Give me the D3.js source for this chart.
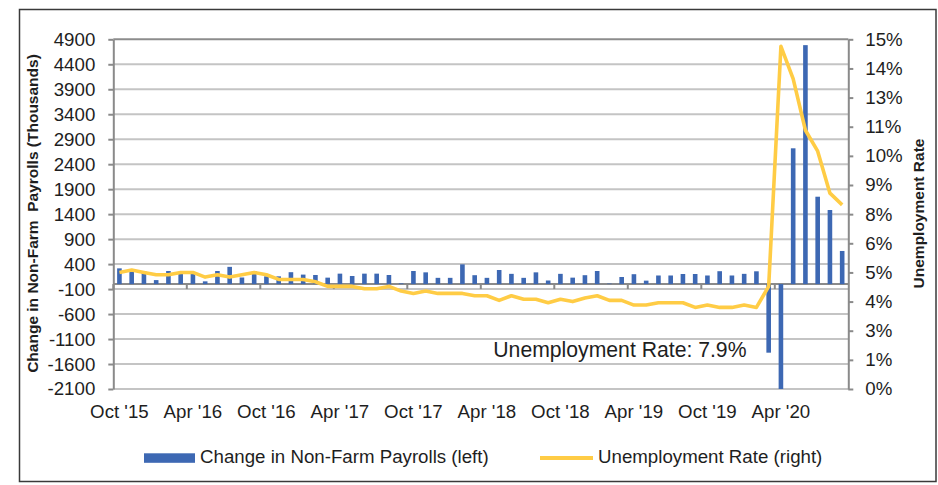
<!DOCTYPE html>
<html>
<head>
<meta charset="utf-8">
<script src="https://cdn.jsdelivr.net/npm/d3@7"></script>
<style>
  body { margin: 0; background: #fff; }
  svg { display: block; font-family: 'Liberation Sans', Arial, sans-serif; }
</style>
</head>
<body>
<script>
const months = [
  "Oct '15", "Nov '15", "Dec '15", "Jan '16", "Feb '16", "Mar '16", "Apr '16", "May '16", "Jun '16", "Jul '16", "Aug '16", "Sep '16",
  "Oct '16", "Nov '16", "Dec '16", "Jan '17", "Feb '17", "Mar '17", "Apr '17", "May '17", "Jun '17", "Jul '17", "Aug '17", "Sep '17",
  "Oct '17", "Nov '17", "Dec '17", "Jan '18", "Feb '18", "Mar '18", "Apr '18", "May '18", "Jun '18", "Jul '18", "Aug '18", "Sep '18",
  "Oct '18", "Nov '18", "Dec '18", "Jan '19", "Feb '19", "Mar '19", "Apr '19", "May '19", "Jun '19", "Jul '19", "Aug '19", "Sep '19",
  "Oct '19", "Nov '19", "Dec '19", "Jan '20", "Feb '20", "Mar '20", "Apr '20", "May '20", "Jun '20", "Jul '20", "Aug '20", "Sep '20"
]

// change in non-farm payrolls, thousands
const payrolls = [
  315, 265, 262, 80, 262, 228, 205, 55, 262, 345, 132, 262,
  155, 155, 238, 190, 182, 129, 209, 162, 209, 209, 182, 14,
  262, 235, 125, 125, 395, 178, 125, 282, 205, 125, 235, 72,
  205, 129, 178, 262, 10, 142, 198, 69, 172, 172, 202, 202,
  172, 258, 172, 205, 256, -1373, -20500, 2718, 4783, 1749, 1483, 663
]

// unemployment rate, %
const unemployment = [
  5.0, 5.1, 5.0, 4.9, 4.9, 5.0, 5.0, 4.8, 4.9, 4.8, 4.9, 5.0,
  4.9, 4.7, 4.7, 4.7, 4.6, 4.4, 4.4, 4.4, 4.3, 4.3, 4.4, 4.2,
  4.1, 4.2, 4.1, 4.1, 4.1, 4.0, 4.0, 3.8, 4.0, 3.85, 3.85, 3.7,
  3.85, 3.75, 3.9, 4.0, 3.8, 3.8, 3.6, 3.6, 3.7, 3.7, 3.7, 3.5,
  3.6, 3.5, 3.5, 3.6, 3.5, 4.4, 14.7, 13.3, 11.1, 10.2, 8.4, 7.9
]

const xLabels = ["Oct '15", "Apr '16", "Oct '16", "Apr '17", "Oct '17", "Apr '18", "Oct '18", "Apr '19", "Oct '19", "Apr '20"]
const leftTicks = [-2100, -1600, -1100, -600, -100, 400, 900, 1400, 1900, 2400, 2900, 3400, 3900, 4400, 4900]
const rightTicks = [0, 1.25, 2.5, 3.75, 5, 6.25, 7.5, 8.75, 10, 11.25, 12.5, 13.75, 15]

const width = 938, height = 485
const plot = { left: 113.3, right: 848.3, top: 39.3, bottom: 389 }
const blue = '#3d68b3', yellow = '#ffcc45', axisGrey = '#8a8a8a', textCol = '#1e1e1e'

const x = d3.scaleBand().domain(months).range([plot.left, plot.right])
const yL = d3.scaleLinear().domain([-2100, 4900]).range([plot.bottom, plot.top]).clamp(true)
const yR = d3.scaleLinear().domain([0, 15]).range([plot.bottom, plot.top])
const cx = m => x(m) + x.bandwidth() / 2
const barW = 4.6

const svg = d3.select('body').append('svg')
  .attr('width', width)
  .attr('height', height)

svg.append('rect')
  .attr('width', width).attr('height', height)
  .attr('fill', '#fff')

// outer frame
svg.append('rect')
  .attr('x', 19.5).attr('y', 9.5)
  .attr('width', 916.5).attr('height', 472)
  .attr('fill', 'none')
  .attr('stroke', '#3a3a3a')
  .attr('stroke-width', 1.5)

// gridlines
svg.append('g')
  .selectAll('line').data(leftTicks).enter()
  .append('line')
  .attr('x1', plot.left).attr('x2', plot.right)
  .attr('y1', d => yL(d)).attr('y2', d => yL(d))
  .attr('stroke', d => d === 4900 ? '#8c8c8c' : '#c4c4c4')
  .attr('stroke-width', 2)

// zero axis with 6-month ticks
const y0 = yL(0)
svg.append('line')
  .attr('x1', plot.left).attr('x2', plot.right)
  .attr('y1', y0).attr('y2', y0)
  .attr('stroke', axisGrey).attr('stroke-width', 2)

svg.append('g')
  .selectAll('line').data(xLabels).enter()
  .append('line')
  .attr('x1', d => x(d)).attr('x2', d => x(d))
  .attr('y1', y0).attr('y2', y0 + 5)
  .attr('stroke', axisGrey).attr('stroke-width', 2)

svg.append('g')
  .attr('font-size', '18.7px')
  .attr('fill', textCol)
  .attr('text-anchor', 'middle')
  .selectAll('text').data(xLabels).enter()
  .append('text')
  .attr('x', d => cx(d))
  .attr('y', 418.3)
  .text(d => d)

// bars
svg.append('g')
  .attr('fill', blue)
  .selectAll('rect').data(months).enter()
  .append('rect')
  .attr('x', d => cx(d) - barW / 2)
  .attr('width', barW)
  .attr('y', (d, i) => Math.min(yL(payrolls[i]), y0))
  .attr('height', (d, i) => Math.abs(yL(payrolls[i]) - y0))

// unemployment line
const line = d3.line()
  .x(d => cx(d.m))
  .y(d => yR(d.v))

svg.append('path')
  .datum(months.map((m, i) => ({ m, v: unemployment[i] })))
  .attr('d', line)
  .attr('fill', 'none')
  .attr('stroke', yellow)
  .attr('stroke-width', 3.6)
  .attr('stroke-linejoin', 'round')

// left axis
const leftAxis = svg.append('g')
  .attr('transform', `translate(${plot.left},0)`)
  .call(d3.axisLeft(yL).tickValues(leftTicks).tickFormat(d => String(d))
    .tickSize(5).tickPadding(13).tickSizeOuter(0))
leftAxis.select('.domain').attr('stroke', axisGrey).attr('stroke-width', 2)
leftAxis.selectAll('.tick line').attr('stroke', axisGrey).attr('stroke-width', 2)
leftAxis.selectAll('.tick text')
  .attr('fill', textCol)
  .style('font-size', '18.7px')
  .style('font-family', "'Liberation Sans', Arial, sans-serif")

// right axis
const rightAxis = svg.append('g')
  .attr('transform', `translate(${plot.right},0)`)
  .call(d3.axisRight(yR).tickValues(rightTicks).tickFormat(d => Math.round(d) + '%')
    .tickSize(5).tickPadding(12).tickSizeOuter(0))
rightAxis.select('.domain').attr('stroke', axisGrey).attr('stroke-width', 2)
rightAxis.selectAll('.tick line').attr('stroke', axisGrey).attr('stroke-width', 2)
rightAxis.selectAll('.tick text')
  .attr('fill', textCol)
  .style('font-size', '18.7px')
  .style('font-family', "'Liberation Sans', Arial, sans-serif")

// axis titles
svg.append('text')
  .attr('transform', `translate(38,213.5) rotate(-90)`)
  .attr('text-anchor', 'middle')
  .attr('font-size', '15.5px')
  .attr('font-weight', 'bold')
  .attr('fill', textCol)
  .style('white-space', 'pre')
  .text('Change in Non-Farm  Payrolls (Thousands)')

svg.append('text')
  .attr('transform', `translate(924,213.5) rotate(-90)`)
  .attr('text-anchor', 'middle')
  .attr('font-size', '15.5px')
  .attr('font-weight', 'bold')
  .attr('fill', textCol)
  .text('Unemployment Rate')

// annotation
svg.append('text')
  .attr('x', 493.3).attr('y', 356.7)
  .attr('font-size', '21.2px')
  .attr('fill', textCol)
  .text('Unemployment Rate: ' + unemployment[unemployment.length - 1] + '%')

// legend
const legend = svg.append('g').attr('font-size', '18.7px').attr('fill', textCol)
legend.append('rect')
  .attr('x', 144).attr('y', 453.3)
  .attr('width', 51).attr('height', 9.5)
  .attr('fill', blue)
legend.append('text')
  .attr('x', 200).attr('y', 463.3)
  .text('Change in Non-Farm Payrolls (left)')
legend.append('line')
  .attr('x1', 540).attr('x2', 593)
  .attr('y1', 458).attr('y2', 458)
  .attr('stroke', yellow).attr('stroke-width', 4)
legend.append('text')
  .attr('x', 598).attr('y', 463.3)
  .text('Unemployment Rate (right)')
</script>
</body>
</html>
